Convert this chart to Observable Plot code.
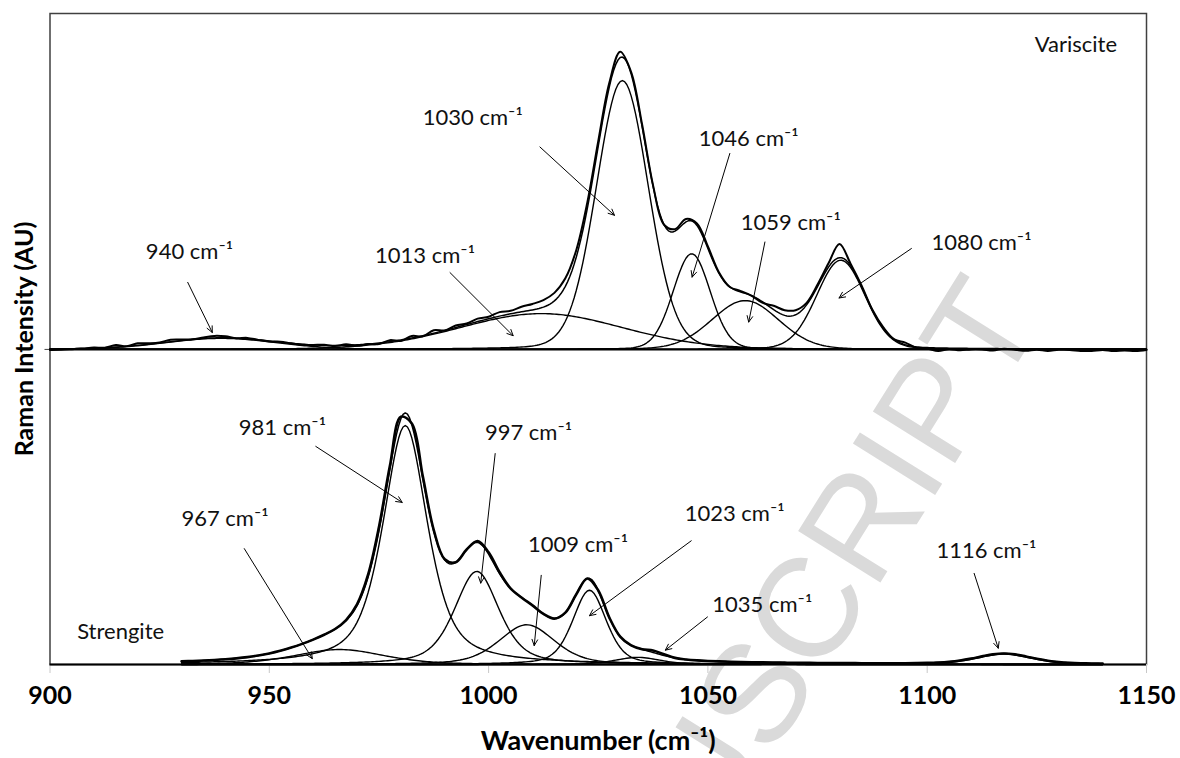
<!DOCTYPE html>
<html><head><meta charset="utf-8">
<script src="https://cdn.jsdelivr.net/npm/d3@7"></script>
<script src="https://cdn.jsdelivr.net/npm/@observablehq/plot@0.6"></script>
<style>body{margin:0;background:#fff;} #chart{width:1180px;height:758px;}</style>
</head><body><div id="chart"></div>
<script>
// ---------- data ----------
const xTicks = [900, 950, 1000, 1050, 1100, 1150];
const topOffset = 48.4; // baseline of the Variscite trace (intensity units)

// fitted bands: centre (cm-1), height (AU), FWHM (cm-1), Lorentzian fraction
const varisciteCenters = [939, 1012, 1030.5, 1046.3, 1058.5, 1080.3];
const varisciteHeights = [1.7, 5.5, 41.3, 14.7, 7.5, 13.7];
const varisciteWidths  = [30, 44, 14, 10, 18, 13];
const varisciteMix     = [0.1, 0.1, 0.1, 0.1, 0.1, 0.1];

const strengiteCenters = [966, 981, 997.3, 1008.7, 1023, 1034, 1117.5];
const strengiteHeights = [2.3, 36.7, 14.3, 6.1, 11.4, 1.1, 1.6];
const strengiteWidths  = [24, 12, 12, 15, 9, 12, 15];
const strengiteMix     = [0.4, 0.6, 0.5, 0.4, 0.4, 0.4, 0.4];

// observed spectrum minus fit, read every 2.5 cm-1
const varisciteResidual = [
 -0.15,-0.15,-0.08,0,0.08,0,0.31,0,0.31,0.15,
 0.08,0.31,0.15,0,0.15,0.31,0.23,0,0.15,0,
 -0.08,0.08,0,-0.08,0,0.08,-0.08,0.15,-0.15,0,
 -0.15,0.23,-0.15,0.31,-0.08,0.46,0,0.31,0.15,0.46,
 0.31,0.62,0.46,0.77,0.92,1.08,1.23,1.23,1.08,0.92,
 0.77,0.62,0.9,0.3,0.31,0.15,0,0.31,0.46,0.31,
 0.31,0.15,0,0.15,0,-0.15,0.6,0.8,0.7,0.31,
 0.31,0.6,2.1,0.3,0.15,0,0.15,0,0.31,-0.15,
 -0.15,-0.46,-0.15,-0.31,-0.15,-0.15,-0.31,0,-0.15,-0.31,
 -0.15,-0.31,-0.15,-0.15,-0.31,-0.31,-0.15,-0.31,-0.23,-0.31,
 -0.15];
const strengiteResidual = [ // 930 .. 1140
 0,0,0,0,0,0,0,0,0,0,0,0,0,0,0,
 0.1,0.2,0.4,0.6,0.5,0.3,0.2,0.3,0.2,0.1,0,0,0.2,0.3,0.2,
 0,0,0,0,0,0,0,0,0,0,0,0,0,0.3,0.2,
 0,0,0,0,0,0,0,0,0,0,0,0,0,0,0,
 0,0,0,0,0,0,0,0,0,0,0,0,0,0,0,
 0,0,0,0,0,0,0,0,0,0];

// annotations
const labelText = ["940 cm⁻¹","1013 cm⁻¹","1030 cm⁻¹","1046 cm⁻¹","1059 cm⁻¹","1080 cm⁻¹",
                   "981 cm⁻¹","997 cm⁻¹","967 cm⁻¹","1009 cm⁻¹","1023 cm⁻¹","1035 cm⁻¹","1116 cm⁻¹"];
const labelX = [931.8, 985.5, 996.4, 1059.3, 1068.9, 1112.4, 953.0, 1009.1, 939.9, 1020.4, 1056.1, 1062.4, 1113.5];
const labelY = [63.3, 62.8, 83.9, 80.8, 67.9, 64.8, 36.3, 35.5, 22.4, 18.3, 23.2, 9.2, 17.4];
const arrowX1 = [931.4, 991.2, 1011.7, 1055.0, 1063.0, 1096.4, 960.6, 1001.5, 944.3, 1012.0, 1046.2, 1049.9, 1110.7];
const arrowY1 = [58.7, 60.2, 79.5, 78.5, 64.9, 63.9, 33.5, 32.4, 17.8, 13.7, 19.0, 7.3, 14.0];
const arrowX2 = [937.0, 1005.6, 1028.7, 1046.4, 1059.3, 1079.9, 980.3, 998.2, 959.8, 1010.4, 1023.0, 1040.3, 1116.2];
const arrowY2 = [51.0, 50.5, 69.0, 59.5, 52.6, 56.3, 24.9, 12.5, 0.9, 2.9, 7.5, 2.2, 2.5];
const panelNames = ["Variscite", "Strengite"];
const panelX = [1133.9, 916.1];
const panelY = [95.1, 5.0];

// ---------- build ----------
const profile = (x, c, w, eta) => {
  const d = (x - c) / w;
  return eta / (1 + 4 * d * d) + (1 - eta) * Math.exp(-4 * Math.LN2 * d * d);
};
const sumAt = (x, C, H, W, E) => C.reduce((s, c, i) => s + H[i] * profile(x, c, W[i], E[i]), 0);

const fine = d3.range(900, 1150.001, 0.5);
const comps = [];
varisciteCenters.forEach((c, i) => {
  for (const x of fine) comps.push({key: "v" + i, x, y: topOffset + varisciteHeights[i] * profile(x, c, varisciteWidths[i], varisciteMix[i])});
});
strengiteCenters.forEach((c, i) => {
  for (const x of fine) if (x >= 930 && x <= 1140)
    comps.push({key: "s" + i, x, y: strengiteHeights[i] * profile(x, c, strengiteWidths[i], strengiteMix[i])});
});
const fits = [];
for (const x of fine) fits.push({key: "v", x, y: topOffset + sumAt(x, varisciteCenters, varisciteHeights, varisciteWidths, varisciteMix)});
for (const x of fine) if (x >= 930 && x <= 1140) fits.push({key: "s", x, y: sumAt(x, strengiteCenters, strengiteHeights, strengiteWidths, strengiteMix)});

const obsTop = varisciteResidual.map((r, i) => {
  const x = 900 + 2.5 * i;
  return {x, y: topOffset + sumAt(x, varisciteCenters, varisciteHeights, varisciteWidths, varisciteMix) + r};
});
const obsBot = strengiteResidual.map((r, i) => {
  const x = 930 + 2.5 * i;
  return {x, y: sumAt(x, strengiteCenters, strengiteHeights, strengiteWidths, strengiteMix) + r};
});
const idx = d3.range(labelText.length);

const chart = Plot.plot({
  width: 1180, height: 758,
  marginLeft: 49.5, marginRight: 34, marginTop: 13, marginBottom: 94,
  style: {fontFamily: "Lato, sans-serif", background: "white", color: "black"},
  x: {domain: [900, 1150]},
  y: {domain: [0, 100]},
  marks: [
    Plot.text(["ACCEPTED MANUSCRIPT"], {x: [1118.0], y: [56.6], rotate: -58, textAnchor: "end", fontSize: 141,
      fill: "#dadada", fontFamily: "Liberation Sans, sans-serif"}),
    Plot.frame({stroke: "#404040", strokeWidth: 1.5}),
    Plot.axisX({ticks: xTicks, tickSize: 9, tickPadding: 13, stroke: "#c8c8c8", fill: "black",
      fontSize: 25, fontWeight: "bold", label: null, tickFormat: d => String(d)}),
    Plot.axisY({ticks: [topOffset], tickSize: 5, tickFormat: () => "", label: null, stroke: "#404040"}),
    Plot.ruleY([0, topOffset], {stroke: "black", strokeWidth: 2}),
    Plot.line(comps, {x: "x", y: "y", z: "key", stroke: "black", strokeWidth: 1.4}),
    Plot.line(fits, {x: "x", y: "y", z: "key", stroke: "black", strokeWidth: 1.5}),
    Plot.line(obsTop, {x: "x", y: "y", stroke: "black", strokeWidth: 2, curve: "catmull-rom"}),
    Plot.line(obsBot, {x: "x", y: "y", stroke: "black", strokeWidth: 2.6, curve: "catmull-rom"}),
    Plot.arrow(idx, {x1: i => arrowX1[i], y1: i => arrowY1[i], x2: i => arrowX2[i], y2: i => arrowY2[i],
      stroke: "black", strokeWidth: 1, headLength: 10, headAngle: 50}),
    Plot.text(idx, {x: i => labelX[i], y: i => labelY[i], text: i => labelText[i], fontSize: 22, fill: "#111"}),
    Plot.text(panelNames, {x: (d, i) => panelX[i], y: (d, i) => panelY[i], text: d => d, fontSize: 22, fill: "#111"}),
    Plot.text(["Raman Intensity (AU)"], {frameAnchor: "left", rotate: -90, dx: -25, textAnchor: "middle", lineAnchor: "middle",
      fontSize: 25, fontWeight: "bold"}),
    Plot.text(["Wavenumber (cm⁻¹)"], {frameAnchor: "bottom", dy: 77, textAnchor: "middle", lineAnchor: "middle",
      fontSize: 27, fontWeight: "bold"})
  ]
});
document.getElementById("chart").appendChild(chart);
</script>
</body></html>
